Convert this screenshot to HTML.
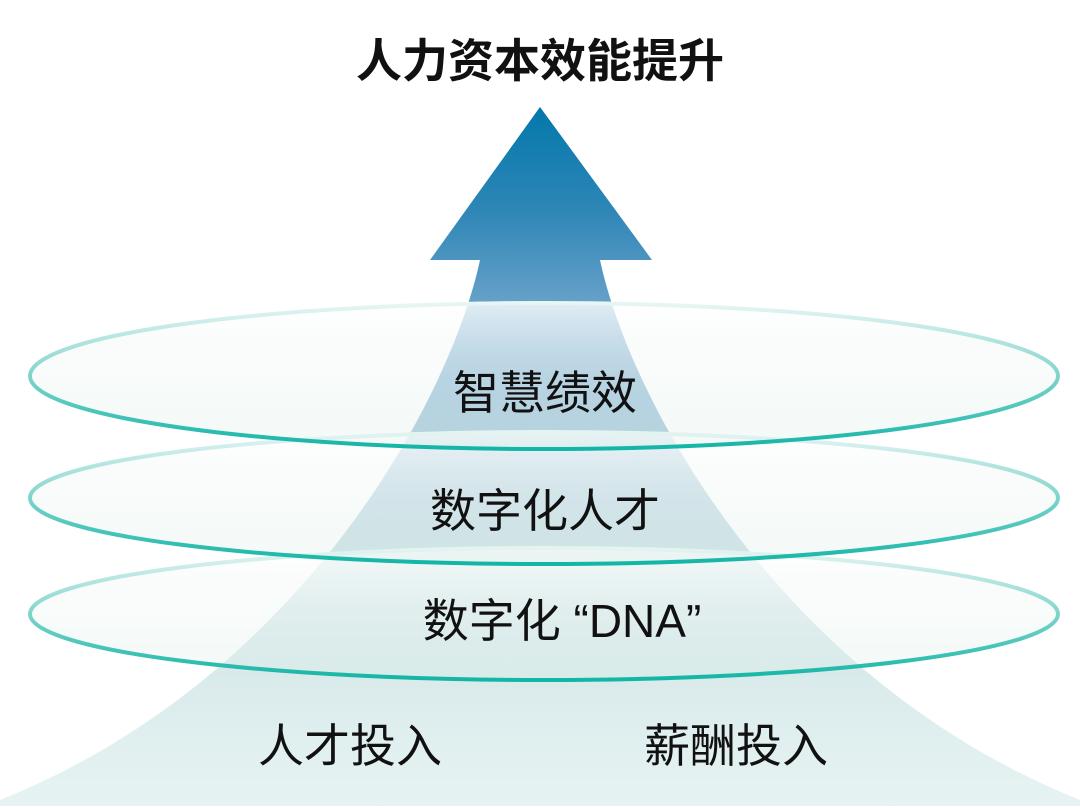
<!DOCTYPE html>
<html><head><meta charset="utf-8"><style>
html,body{margin:0;padding:0;background:#fff;width:1080px;height:812px;overflow:hidden}
svg text{font-family:"Liberation Sans","Noto Sans CJK SC",sans-serif;fill:#111}
</style></head><body>
<svg width="1080" height="812" viewBox="0 0 1080 812" xmlns="http://www.w3.org/2000/svg">
<defs>
<linearGradient id="arr" x1="0" y1="107" x2="0" y2="805" gradientUnits="userSpaceOnUse">
<stop offset="0" stop-color="#0378aa"/>
<stop offset="0.15" stop-color="#2f86b7"/>
<stop offset="0.3" stop-color="#6ea5cb"/>
<stop offset="0.45" stop-color="#a3c5db"/>
<stop offset="0.65" stop-color="#cfe3e6"/>
<stop offset="1" stop-color="#e6f3f2"/>
</linearGradient>
<linearGradient id="ef" x1="0" y1="0" x2="0" y2="1">
<stop offset="0" stop-color="#ffffff" stop-opacity="0.8"/>
<stop offset="0.5" stop-color="#f0f7f4" stop-opacity="0.45"/>
<stop offset="1" stop-color="#d6ece6" stop-opacity="0.25"/>
</linearGradient>
<linearGradient id="es" x1="0" y1="0" x2="0" y2="1">
<stop offset="0" stop-color="#e8f6f4"/>
<stop offset="0.5" stop-color="#7fd4cc"/>
<stop offset="1" stop-color="#12b5a6"/>
</linearGradient>
</defs>
<path d="M430,260 L540,107 L652,260 L600,260 C630,400 780,680 1080,800 L1080,806 L0,806 L0,800 C300,680 450,400 480,260 Z" fill="url(#arr)"/>
<ellipse cx="544" cy="614" rx="514" ry="66" fill="url(#ef)" stroke="url(#es)" stroke-width="4"/>
<ellipse cx="544" cy="498" rx="514" ry="66" fill="url(#ef)" stroke="url(#es)" stroke-width="4"/>
<ellipse cx="544" cy="376" rx="514" ry="73" fill="url(#ef)" stroke="url(#es)" stroke-width="4"/>
<text x="540" y="77" font-size="46" font-weight="bold" text-anchor="middle">人力资本效能提升</text>
<text x="545" y="409" font-size="46" text-anchor="middle">智慧绩效</text>
<text x="545" y="527" font-size="46" text-anchor="middle">数字化人才</text>
<text x="562" y="637" font-size="46" text-anchor="middle">数字化 “DNA”</text>
<text x="350" y="762" font-size="46" text-anchor="middle">人才投入</text>
<text x="736" y="762" font-size="46" text-anchor="middle">薪酬投入</text>
</svg>
</body></html>
